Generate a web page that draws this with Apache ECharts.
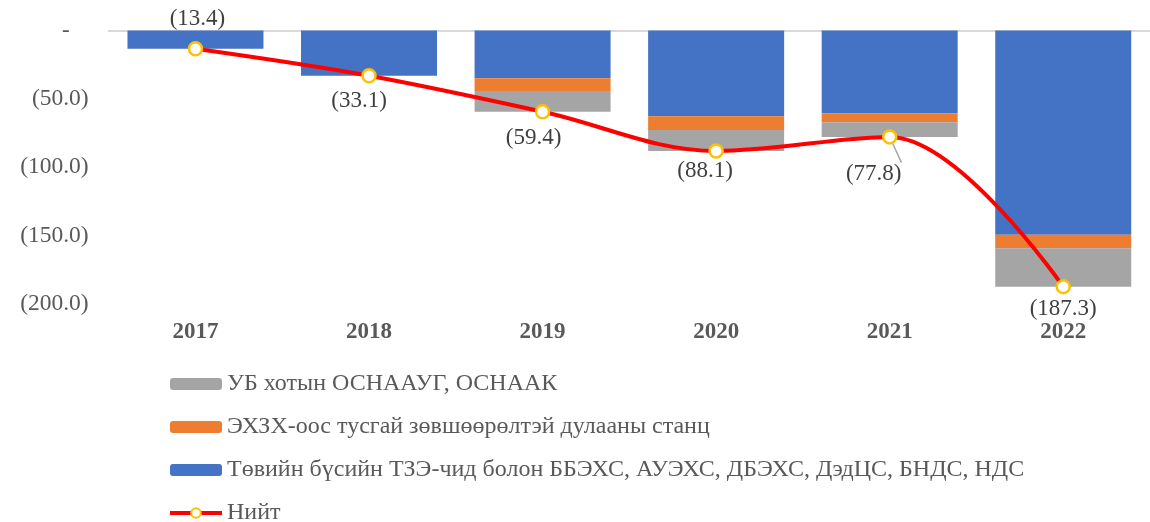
<!DOCTYPE html>
<html>
<head>
<meta charset="utf-8">
<script src="https://cdn.jsdelivr.net/npm/echarts@6/dist/echarts.min.js"></script>
<style>
    html, body { margin: 0; padding: 0; background: #fff; }
    #main { width: 1150px; height: 522px; }
</style>
</head>
<body>
<div id="main"></div>
<script>
// он
var years = ['2017', '2018', '2019', '2020', '2021', '2022'];
// Төвийн бүсийн ТЗЭ-чид
var blueVals = [-13.4, -33.1, -35.0, -62.7, -60.5, -149.3];
// ЭХЗХ-оос тусгай зөвшөөрөлтэй
var orangeVals = [0, 0, -9.2, -10.1, -6.6, -10.0];
// УБ хотын ОСНААУГ
var grayVals = [0, 0, -15.2, -15.3, -10.7, -28.0];
// Нийт
var totalVals = [-13.4, -33.1, -59.4, -88.1, -77.8, -187.3];
var yTicks = [-200, -150, -100, -50, 0];

var names = [
    'УБ хотын ОСНААУГ, ОСНААК',
    'ЭХЗХ-оос тусгай зөвшөөрөлтэй дулааны станц',
    'Төвийн бүсийн ТЗЭ-чид болон ББЭХС, АУЭХС, ДБЭХС, ДэдЦС, БНДС, НДС',
    'Нийт'
];

var font = '"Liberation Serif", "Times New Roman", serif';

function fmt(v) {
    if (v === 0) return '-';
    return '(' + Math.abs(v).toFixed(1) + ')';
}

// байрлал тохируулах (label offset)
var labelPos = [
    { position: 'top', offset: [2, -6] },
    { position: 'bottom', offset: [-10, 1] },
    { position: 'bottom', offset: [-9, 2] },
    { position: 'bottom', offset: [-11, -4] },
    { position: 'bottom', offset: [-16, 13] },
    { position: 'bottom', offset: [0, -2] }
];

var lineData = totalVals.map(function (v, i) {
    var item = { value: v, label: labelPos[i] };
    if (i === 4) {
        item.labelLine = { show: true, lineStyle: { color: '#a6a6a6', width: 1.5 } };
    }
    return item;
});

var myChart = echarts.init(document.getElementById('main'));

var option = {
    animation: false,
    textStyle: { fontFamily: font },
    grid: { left: 108.7, top: 30.5, width: 1060, height: 273.5 },
    legend: {
        data: names,
        orient: 'vertical',
        left: 168,
        top: 372,
        height: 220,
        padding: 0,
        itemWidth: 52,
        itemHeight: 12,
        itemGap: 19,
        lineStyle: { width: 4 },
        textStyle: { fontFamily: font, fontSize: 24, color: '#595959', lineHeight: 22 }
    },
    xAxis: [{
        type: 'category',
        data: years,
        position: 'bottom',
        axisLine: { show: false },
        axisTick: { show: false },
        axisLabel: { fontFamily: font, fontSize: 23, fontWeight: 'bold', color: '#595959', margin: 17 }
    }, {
        type: 'category',
        data: years,
        position: 'top',
        axisLine: { show: true, onZero: false, lineStyle: { color: '#d9d9d9', width: 2 } },
        axisTick: { show: false },
        axisLabel: { show: false }
    }],
    yAxis: {
        type: 'value',
        min: yTicks[0],
        max: yTicks[yTicks.length - 1],
        interval: 50,
        splitLine: { show: false },
        axisLine: { show: false },
        axisTick: { show: false },
        axisLabel: {
            margin: 20,
            formatter: function (v) {
                return v === 0 ? '{d|-}' : fmt(v);
            },
            fontFamily: font,
            fontSize: 23.5,
            color: '#595959',
            rich: { d: { fontFamily: font, fontSize: 23, color: '#595959', padding: [0, 19, 0, 0] } }
        }
    },
    series: [{
        name: names[2],
        type: 'bar',
        stack: 'a',
        data: blueVals,
        barWidth: 136,
        itemStyle: { color: '#4472C4' }
    }, {
        name: names[1],
        type: 'bar',
        stack: 'a',
        data: orangeVals,
        itemStyle: { color: '#ED7D31' }
    }, {
        name: names[0],
        type: 'bar',
        stack: 'a',
        data: grayVals,
        itemStyle: { color: '#A5A5A5' }
    }, {
        name: names[3],
        type: 'line',
        data: lineData,
        smooth: 0.35,
        z: 5,
        symbol: 'circle',
        symbolSize: 13,
        lineStyle: { color: '#FF0000', width: 4 },
        itemStyle: { color: '#fff', borderColor: '#FFC000', borderWidth: 2.5 },
        label: {
            show: true,
            formatter: function (p) { return fmt(p.value); },
            fontFamily: font,
            fontSize: 23,
            color: '#404040'
        }
    }]
};

myChart.setOption(option);
</script>
</body>
</html>
